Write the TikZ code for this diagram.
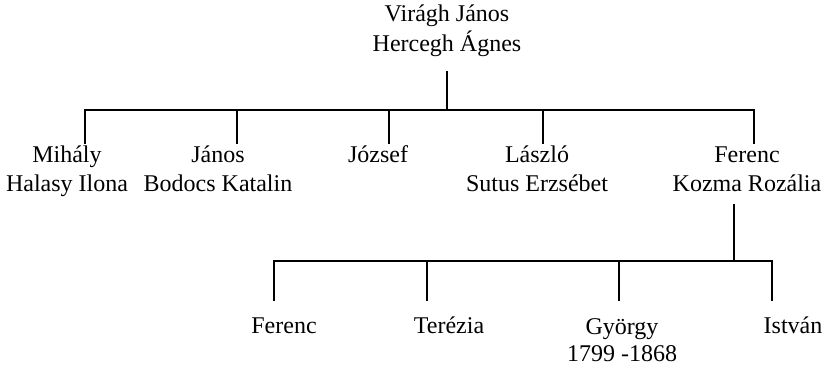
\documentclass[tikz,border=0pt]{standalone}
\usepackage{fontspec}
\setmainfont{Liberation Serif}
\begin{document}
\begin{tikzpicture}[x=1pt,y=-1pt,
  person/.style={anchor=base,align=center,inner sep=0pt,font=\fontsize{24}{29}\selectfont},
  conn/.style={line width=1.8pt,line cap=rect}]
\useasboundingbox (0,0) rectangle (824,366);
% people (anchor = baseline of the last line)
\node[person,font=\fontsize{24}{30}\selectfont] (vj) at (447,52) {Virágh János\\Hercegh Ágnes};
\node[person] (mi) at (67,192) {Mihály\\Halasy Ilona};
\node[person] (ja) at (218,192) {János\\Bodocs Katalin};
\node[person] (jo) at (378,163) {József};
\node[person] (la) at (537,192) {László\\Sutus Erzsébet};
\node[person] (fe) at (747,192) {Ferenc\\Kozma Rozália};
\node[person] (f2) at (284,333) {Ferenc};
\node[person] (te) at (449,333) {Terézia};
\node[person,font=\fontsize{24}{27}\selectfont] (gy) at (622,361) {György\\1799 -1868};
\node[person] (is) at (793,333) {István};
% junction coordinates
\coordinate (vjd) at (447,72);
\coordinate (bar1) at (447,110);
\coordinate (bar1l) at (85,110);
\coordinate (bar1r) at (754,110);
\coordinate (dmi) at (85,143);
\coordinate (dja) at (237,143);
\coordinate (djo) at (389,143);
\coordinate (dla) at (543,143);
\coordinate (dfe) at (754,143);
\coordinate (fed) at (734,205);
\coordinate (bar2) at (734,261);
\coordinate (bar2l) at (274,261);
\coordinate (bar2r) at (772,261);
\coordinate (df2) at (274,300);
\coordinate (dte) at (427,300);
\coordinate (dgy) at (619,300);
\coordinate (dis) at (772,300);
% connectors
\draw[conn] (vjd) -- (bar1);
\draw[conn] (bar1l) -- (bar1r);
\foreach \c in {dmi,dja,djo,dla,dfe} \draw[conn] (\c |- bar1) -- (\c);
\draw[conn] (fed) -- (bar2);
\draw[conn] (bar2l) -- (bar2r);
\foreach \c in {df2,dte,dgy,dis} \draw[conn] (\c |- bar2) -- (\c);
\end{tikzpicture}
\end{document}
